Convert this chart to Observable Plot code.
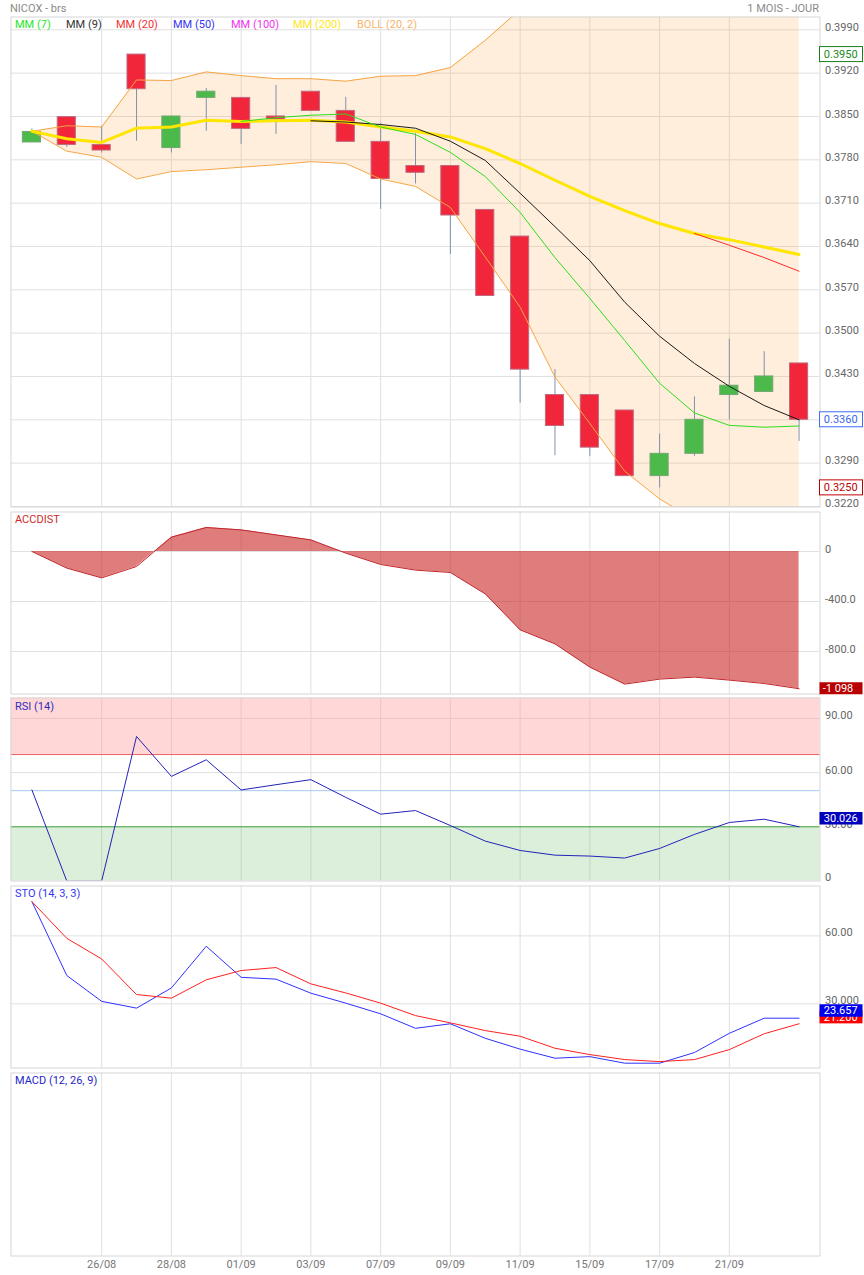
<!DOCTYPE html>
<html><head><meta charset="utf-8">
<script src="https://cdn.jsdelivr.net/npm/d3@7"></script>
<script src="https://cdn.jsdelivr.net/npm/@observablehq/plot@0.6"></script>
<style>
body{margin:0;background:#fff;font-family:Roboto,"Noto Sans",sans-serif;}
#wrap{position:relative;width:864px;height:1275px;overflow:hidden;background:#fff;}
.t{position:absolute;white-space:nowrap;font-size:11px;line-height:14px;}
</style></head><body><div id="wrap"></div>
<script>
// ---- data ----
const dates = ["24/08","25/08","26/08","27/08","28/08","31/08","01/09","02/09","03/09","04/09","07/09","08/09","09/09","10/09","11/09","14/09","15/09","16/09","17/09","18/09","21/09","22/09","23/09"];
const labelledDays = [2,4,6,8,10,12,14,16,18,20];
const priceTicks = [0.3990,0.3920,0.3850,0.3780,0.3710,0.3640,0.3570,0.3500,0.3430,0.3360,0.3290,0.3220];

const open  = [0.3808,0.3849,0.3804,0.3950,0.3799,0.3880,0.3880,0.3850,0.3890,0.3859,0.3809,0.3770,0.3770,0.3699,0.3656,0.3400,0.3400,0.3375,0.3269,0.3305,0.3400,0.3405,0.3451];
const close = [0.3825,0.3804,0.3795,0.3894,0.3850,0.3890,0.3830,0.3845,0.3859,0.3809,0.3749,0.3759,0.3690,0.3560,0.3441,0.3350,0.3315,0.3269,0.3305,0.3360,0.3415,0.3430,0.3360];
const high  = [0.3830,0.3849,0.3834,0.3950,0.3850,0.3895,0.3880,0.3900,0.3890,0.3881,0.3839,0.3822,0.3770,0.3699,0.3656,0.3441,0.3400,0.3375,0.3337,0.3397,0.3490,0.3470,0.3451];
const low   = [0.3808,0.3800,0.3791,0.3810,0.3791,0.3826,0.3805,0.3821,0.3859,0.3809,0.3700,0.3741,0.3627,0.3560,0.3387,0.3302,0.3301,0.3269,0.3250,0.3301,0.3360,0.3405,0.3325];

const mm7   = [null,null,null,null,null,null,0.3842,0.3848,0.3852,0.3854,0.3833,0.3821,0.3792,0.3753,0.3695,0.3622,0.3556,0.3488,0.3419,0.3371,0.3351,0.3348,0.3350];
const mm9   = [null,null,null,null,null,null,null,null,0.3843,0.3841,0.3837,0.3831,0.3810,0.3779,0.3726,0.3672,0.3617,0.3550,0.3495,0.3451,0.3414,0.3383,0.3360];
const mm20  = [null,null,null,null,null,null,null,null,null,null,null,null,null,null,null,null,null,null,null,0.3661,0.3642,0.3622,0.3600];
const mm200 = [0.3826,0.3814,0.3808,0.3831,0.3833,0.3844,0.3842,0.3843,0.3844,0.3841,0.3833,0.3826,0.3817,0.3798,0.3774,0.3747,0.3721,0.3698,0.3677,0.3661,0.3651,0.3639,0.3627];
const bollUp = [0.3826,0.3835,0.3833,0.3909,0.3908,0.3922,0.3916,0.3911,0.3911,0.3907,0.3915,0.3916,0.3929,0.3973,0.4023,0.4090,0.4150,0.4195,0.4225,0.4245,0.4255,0.4260,0.4262];
const bollLo = [0.3826,0.3794,0.3784,0.3749,0.3761,0.3764,0.3768,0.3772,0.3777,0.3774,0.3749,0.3737,0.3703,0.3623,0.3542,0.3429,0.3354,0.3277,0.3232,0.3199,0.3185,0.3180,0.3178];

const accdist = [0,-133,-211,-120,115,192,173,133,93,-13,-104,-149,-168,-339,-627,-739,-925,-1061,-1021,-1005,-1029,-1056,-1098];
const accTicks = [0,-400,-800];

const rsi = [50.4,0,0,80,57.9,67.1,50.4,53.3,56.1,46.3,37,39,30.7,22.1,16.9,14.3,13.8,12.7,18,25.8,32.4,34.2,30.026];
const rsiTicks = [90,60,30,0];
const rsiGrid = [90,60];
const rsiOver = 70, rsiMid = 50, rsiUnder = 30;

const stoK = [75.1,42.5,31.1,28.1,37.0,55.4,41.7,40.9,34.7,30.3,25.6,19.2,21.2,14.8,10.0,6.0,6.7,3.8,3.8,8.5,17.0,23.657,23.657];
const stoD = [75.1,58.9,49.8,34.1,32.5,40.6,44.7,46.0,38.8,34.8,30.3,24.8,21.6,18.2,15.7,10.4,7.6,5.4,4.5,5.4,9.8,16.8,21.2];
const stoTicks = [60,30];
const stoTickText = ["60.00","30.000"];

const periodHigh = 0.3950, periodLow = 0.3250;

// ---- tables ----
const nz = v => v == null ? NaN : v;
const rows = open.map((o,i) => ({i, o, c: close[i], h: high[i], l: low[i],
  m7: nz(mm7[i]), m9: nz(mm9[i]), m20: nz(mm20[i]), m200: mm200[i], bu: bollUp[i], bl: bollLo[i],
  acc: accdist[i], rsi: rsi[i], k: stoK[i], d: stoD[i]}));
const ups = rows.filter(d => d.c >= d.o);
const downs = rows.filter(d => d.c < d.o);
const last = rows[rows.length-1];

// ---- layout helpers ----
const wrap = document.getElementById("wrap");
const X = {domain: [-0.6, 22.6], axis: null};
const style = {fontFamily: "Roboto, 'Noto Sans', sans-serif", fontSize: "11px", color: "#666", background: "transparent"};
const GRID = "#e0e0e0", FRAME = "#d6d6d6";
const M = {marginLeft: 10.5, marginRight: 44.5, marginTop: 1.5, marginBottom: 1.5, width: 864};

function place(svg, top) {
  svg.style.position = "absolute"; svg.style.left = "0px"; svg.style.top = top + "px";
  wrap.appendChild(svg); return svg;
}
function badge(svg, value, label, o) {
  const y = svg.scale("y").apply(value) + (o.dy || 0);
  const h = o.h || 13;
  const g = d3.select(svg).append("g");
  g.append("rect").attr("x", 819.5).attr("y", y - h/2).attr("width", 43).attr("height", h)
    .attr("fill", o.fill).attr("stroke", o.stroke || "none");
  g.append("text").attr("x", o.tx || 823.8).attr("y", y).attr("dy", "0.36em")
    .attr("text-anchor", "start").attr("fill", o.color).attr("font-size", 11).text(label);
}
function text(str, left, top, color, extra) {
  const d = document.createElement("div");
  d.className = "t"; d.textContent = str; d.style.color = color;
  if (left != null) d.style.left = left + "px";
  d.style.top = top + "px";
  if (extra) Object.assign(d.style, extra);
  wrap.appendChild(d);
}
const vGrid = () => Plot.ruleX(labelledDays, {stroke: GRID});

// ---- main price panel ----
const main = place(Plot.plot({
  ...M, height: 493, x: X, y: {domain: [0.32191, 0.40107]}, style,
  marks: [
    Plot.ruleY(priceTicks, {stroke: GRID}),
    vGrid(),
    Plot.areaY(rows, {x: "i", y1: "bl", y2: "bu", fill: "#f9a33a", fillOpacity: 0.18, clip: true}),
    Plot.ruleX(rows, {x: "i", y1: "l", y2: "h", stroke: "#8092aa"}),
    Plot.rect(ups, {x1: d => d.i - 0.26, x2: d => d.i + 0.26, y1: "o", y2: "c", fill: "#4cba4b", stroke: "#73a673", strokeWidth: 1}),
    Plot.rect(downs, {x1: d => d.i - 0.26, x2: d => d.i + 0.26, y1: "o", y2: "c", fill: "#f1263a", stroke: "#bf6a80", strokeWidth: 1, ariaLabel: "down candles"}),
    Plot.line(rows, {x: "i", y: "bu", stroke: "#f6a545", strokeWidth: 1, clip: true}),
    Plot.line(rows, {x: "i", y: "bl", stroke: "#f6a545", strokeWidth: 1, clip: true}),
    Plot.line(rows, {x: "i", y: "m200", stroke: "#ffe600", strokeWidth: 3}),
    Plot.line(rows, {x: "i", y: "m20", stroke: "#ff2a2a", strokeWidth: 1}),
    Plot.line(rows, {x: "i", y: "m9", stroke: "#1a1a1a", strokeWidth: 1}),
    Plot.line(rows, {x: "i", y: "m7", stroke: "#2fdc1f", strokeWidth: 1}),
    Plot.frame({stroke: FRAME}),
    Plot.axisY(priceTicks.filter(d => Math.abs(d - last.c) > 1e-9), {anchor: "right", tickSize: 0, tickPadding: 5, tickFormat: d => d.toFixed(4), dy: -2.5, label: null})
  ]
}), 15);
{
  const defs = d3.select(main).insert("defs", ":first-child");
  const lg = defs.append("linearGradient").attr("id", "redGrad").attr("x1", 0).attr("y1", 0).attr("x2", 1).attr("y2", 1);
  lg.append("stop").attr("offset", "0%").attr("stop-color", "#f4342f");
  lg.append("stop").attr("offset", "100%").attr("stop-color", "#ee1943");
  d3.select(main).selectAll('g[aria-label="down candles"] rect').attr("fill", "url(#redGrad)");
}
badge(main, periodHigh, periodHigh.toFixed(4), {fill: "#fff", stroke: "#1c7d1c", color: "#1a8a1a", h: 15});
badge(main, last.c, last.c.toFixed(4), {fill: "#fff", stroke: "#3d6cf5", color: "#3a66f0", h: 15});
badge(main, periodLow, periodLow.toFixed(4), {fill: "#fff", stroke: "#c00000", color: "#c00000", h: 15});

// ---- ACCDIST ----
const acc = place(Plot.plot({
  ...M, height: 185, x: X, y: {domain: [-1140, 316]}, style,
  marks: [
    Plot.ruleY(accTicks, {stroke: GRID}),
    vGrid(),
    Plot.areaY(rows, {x: "i", y: "acc", fill: "rgb(200,30,30)", fillOpacity: 0.58}),
    Plot.line(rows, {x: "i", y: "acc", stroke: "#c0262c", strokeWidth: 1}),
    Plot.frame({stroke: FRAME}),
    Plot.axisY(accTicks, {anchor: "right", tickSize: 0, tickPadding: 5, tickFormat: d => d === 0 ? "0" : d.toFixed(1), dy: -2.5, label: null})
  ]
}), 510);
badge(acc, last.acc, "-1 098", {fill: "#b80000", color: "#fff", h: 12, tx: 822.8});

// ---- RSI ----
const rsiTop = 101.3;
const rsiSvg = place(Plot.plot({
  ...M, height: 186, x: X, y: {domain: [0, rsiTop]}, style,
  marks: [
    Plot.ruleY(rsiGrid, {stroke: GRID}),
    vGrid(),
    Plot.rect([{lo: rsiOver, hi: rsiTop}], {y1: "lo", y2: "hi", fill: "#ff9a9a", fillOpacity: 0.4}),
    Plot.rect([{lo: 0, hi: rsiUnder}], {y1: "lo", y2: "hi", fill: "#5cb85c", fillOpacity: 0.22}),
    Plot.ruleY([rsiOver], {stroke: "#f26262"}),
    Plot.ruleY([rsiMid], {stroke: "#a6c8ee"}),
    Plot.ruleY([rsiUnder], {stroke: "#3f9f3f"}),
    Plot.line(rows, {x: "i", y: "rsi", stroke: "#2323b8", strokeWidth: 1, clip: true}),
    Plot.frame({stroke: FRAME}),
    Plot.axisY(rsiTicks.filter(d => d > 0), {anchor: "right", tickSize: 0, tickPadding: 5, tickFormat: d => d.toFixed(2), dy: -2.5, label: null}),
    Plot.axisY(rsiTicks.filter(d => d === 0), {anchor: "right", tickSize: 0, tickPadding: 5, tickFormat: d => String(d), dy: -3.5, label: null})
  ]
}), 696);
badge(rsiSvg, last.rsi, last.rsi.toFixed(3), {fill: "#0000bb", color: "#fff", h: 12.5, dy: -8});

// ---- STO ----
const sto = place(Plot.plot({
  ...M, height: 185, x: X, y: {domain: [1.68, 82.0]}, style,
  marks: [
    Plot.ruleY(stoTicks, {stroke: GRID}),
    vGrid(),
    Plot.line(rows, {x: "i", y: "k", stroke: "#3030ff", strokeWidth: 1}),
    Plot.line(rows, {x: "i", y: "d", stroke: "#ff2020", strokeWidth: 1}),
    Plot.frame({stroke: FRAME}),
    Plot.axisY(stoTicks, {anchor: "right", tickSize: 0, tickPadding: 5, tickFormat: (d) => stoTickText[stoTicks.indexOf(d)], dy: -3, label: null})
  ]
}), 884);
badge(sto, last.d, last.d.toFixed(3), {fill: "#ff0000", color: "#fff", h: 13, dy: -6.4});
badge(sto, last.k, last.k.toFixed(3), {fill: "#0000ee", color: "#fff", h: 12.5, dy: -7.2});

// ---- MACD (empty) + date axis ----
place(Plot.plot({
  ...M, height: 205, marginBottom: 20.5, x: X, y: {domain: [0, 1], axis: null}, style,
  marks: [
    vGrid(),
    Plot.frame({stroke: FRAME}),
    Plot.axisX(labelledDays, {tickSize: 0, tickPadding: 4, tickFormat: d => dates[d], fill: "#777", label: null})
  ]
}), 1071);

// ---- texts ----
text("NICOX - brs", 10, 2, "#8a8a8a");
text("1 MOIS - JOUR", null, 2, "#8a8a8a", {right: "45px"});
const legend = [["MM (7)", "#1ee81e", 15], ["MM (9)", "#333333", 66], ["MM (20)", "#f23333", 116], ["MM (50)", "#3434f5", 173],
                ["MM (100)", "#ee33ee", 231], ["MM (200)", "#ffe81a", 293], ["BOLL (20, 2)", "#f7b36a", 357]];
legend.forEach(([s, c, x]) => text(s, x, 18, c));
text("ACCDIST", 15, 513, "#cc2a2a");
text("RSI (14)", 15, 700, "#3030c0");
text("STO (14, 3, 3)", 15, 887, "#3535ee");
text("MACD (12, 26, 9)", 15, 1074, "#2626c8");
</script></body></html>
